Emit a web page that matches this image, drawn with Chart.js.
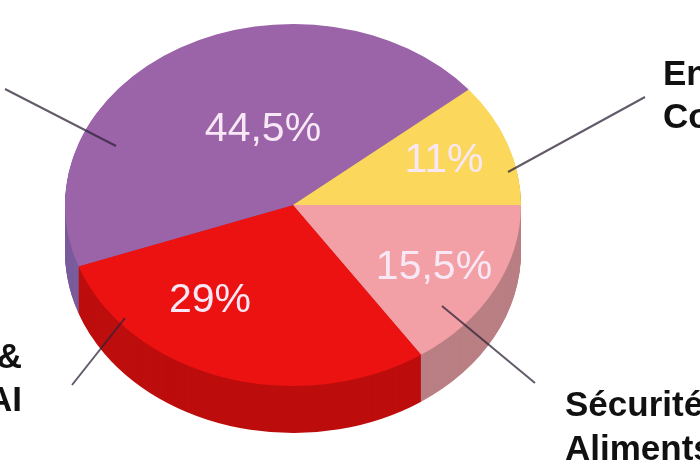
<!DOCTYPE html>
<html>
<head>
<meta charset="utf-8">
<style>
  html, body { margin: 0; padding: 0; background: #fff; overflow: hidden; }
  canvas { display: block; filter: blur(0.6px); }
</style>
<script src="https://cdn.jsdelivr.net/npm/chart.js@4"></script>
</head>
<body>
<canvas id="myChart" width="700" height="467"></canvas>
<script>
//values, clockwise from the east side
const sliceNames = ['Sécurité', 'AI', 'Autres', 'En'];
const sliceValues = [15.5, 29, 44.5, 11];
const sliceLabels = ['15,5%', '29%', '44,5%', '11%'];
const sliceColors = ['#f2a0a6', '#ec1212', '#9b64a9', '#fbd75c'];
const sideColors = ['#b97f83', '#bd0d0d', '#7a5c9c', '#c9a83f'];

//flattening of the pie and height of its side, in pixels
const squash = 0.794;
const depth = 47;

const sliceLabelSpots = [[434, 268], [210, 301], [263, 130], [444, 161]];
const nameTexts = [
    ['En', 663, 85, 'left'],
    ['Co', 663, 128, 'left'],
    ['Sécurité', 565, 416, 'left'],
    ['Aliments', 565, 460, 'left'],
    ['&', 22, 368, 'right'],
    ['AI', 22, 411, 'right']
];
const leaders = [
    [5, 89, 116, 146],
    [645, 97, 508, 172],
    [535, 383, 442, 306],
    [72, 385, 125, 318]
];

//squash the pie into an ellipse and stack the darker side under it
const pie3d = {
    id: 'pie3d',
    beforeDatasetsDraw(chart) {
        const ctx = chart.ctx;
        const arcs = chart.getDatasetMeta(0).data;
        const cx = arcs[0].x;
        const cy = arcs[0].y;
        for (let d = depth; d >= 1; d--) {
            arcs.forEach((arc, i) => {
                ctx.save();
                ctx.translate(cx, cy + d);
                ctx.scale(1, squash);
                ctx.fillStyle = sideColors[i];
                ctx.beginPath();
                ctx.moveTo(0, 0);
                ctx.arc(0, 0, arc.outerRadius, arc.startAngle, arc.endAngle);
                ctx.closePath();
                ctx.fill();
                ctx.restore();
            });
        }
        ctx.save();
        ctx.translate(cx, cy);
        ctx.scale(1, squash);
        ctx.translate(-cx, -cy);
    },
    afterDatasetsDraw(chart) {
        chart.ctx.restore();
    },
    afterDraw(chart) {
        const ctx = chart.ctx;
        ctx.save();
        ctx.strokeStyle = 'rgba(45, 35, 55, 0.75)';
        ctx.lineWidth = 2;
        leaders.forEach(l => {
            ctx.beginPath();
            ctx.moveTo(l[0], l[1]);
            ctx.lineTo(l[2], l[3]);
            ctx.stroke();
        });
        ctx.font = '41px "Liberation Sans"';
        ctx.fillStyle = '#f8e8f6';
        ctx.textAlign = 'center';
        ctx.textBaseline = 'middle';
        sliceLabels.forEach((t, i) => {
            ctx.fillText(t, sliceLabelSpots[i][0], sliceLabelSpots[i][1]);
        });
        ctx.font = 'bold 35px "Liberation Sans"';
        ctx.fillStyle = '#111';
        ctx.textBaseline = 'alphabetic';
        nameTexts.forEach(t => {
            ctx.textAlign = t[3];
            ctx.fillText(t[0], t[1], t[2]);
        });
        ctx.restore();
    }
};

new Chart(document.getElementById('myChart'), {
    type: 'pie',
    plugins: [pie3d],
    data: {
        labels: sliceNames,
        datasets: [{
            data: sliceValues,
            backgroundColor: sliceColors,
            borderWidth: 0,
            clip: false
        }]
    },
    options: {
        responsive: false,
        animation: false,
        rotation: 90,
        radius: 228,
        layout: { padding: { right: 114, bottom: 57 } },
        plugins: {
            legend: { display: false },
            tooltip: { enabled: false }
        }
    }
});
</script>
</body>
</html>
